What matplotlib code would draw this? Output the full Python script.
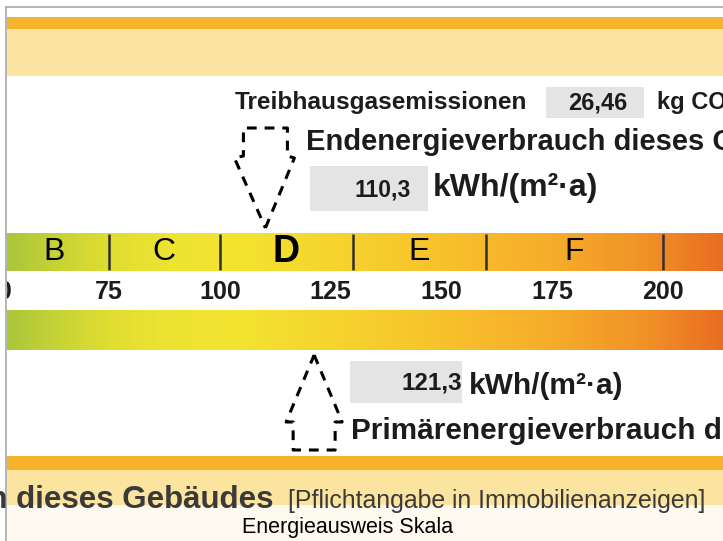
import numpy as np
import matplotlib.pyplot as plt
from matplotlib.colors import LinearSegmentedColormap
from matplotlib.patches import Rectangle

plt.rcParams['font.family'] = ['Liberation Sans', 'DejaVu Sans']

classes = ["B", "C", "D", "E", "F"]
class_edges = [50, 75, 100, 130, 160, 200]
current_class = "D"
tick_values = [50, 75, 100, 125, 150, 175, 200]
endenergie = 110.3
primaerenergie = 121.3
co2 = 26.46

# colour ramp of the scale bar (kWh -> colour)
grad_values = [50, 62, 75, 90, 105, 125, 150, 175, 195, 215]
grad_colors = ["#a7c53b", "#c4d236", "#e0de31", "#efe432", "#f3e331",
               "#f6d42e", "#f8c22c", "#f6ad2a", "#f19427", "#ea6b22"]

W, H = 723, 541
fig = plt.figure(figsize=(W / 100, H / 100), dpi=100)

# background / decoration in pixel coordinates
deco = fig.add_axes([0, 0, 1, 1])
deco.set_xlim(0, W)
deco.set_ylim(H, 0)
deco.axis("off")

# scale: kWh on x (inside the frame, from pixel 7), pixels on y
left = 7
ax = fig.add_axes([left / W, 0, 1 - left / W, 1])
ax.set_xlim(51.97, 213.59)
ax.set_ylim(H, 0)
ax.axis("off")
px = (213.59 - 51.97) / (W - left)  # kWh per pixel

orange = "#f6b42c"
light = "#fbe3a0"
grey_box = "#e4e4e4"
ink = "#1c1c1c"

# top bands
deco.add_patch(Rectangle((7, 17), W, 12, color=orange, lw=0))
deco.add_patch(Rectangle((7, 29), W, 47, color=light, lw=0))
# bottom bands
deco.add_patch(Rectangle((7, 456), W, 14, color=orange, lw=0))
deco.add_patch(Rectangle((7, 470), W, 80, color=light, lw=0))

# CO2 line
deco.text(235, 103, "Treibhausgasemissionen", fontsize=17.6, fontweight="bold",
          color=ink, va="center", ha="left")
deco.add_patch(Rectangle((546, 87), 98, 31, color=grey_box, lw=0))
deco.text(598, 103, f"{co2:.2f}".replace(".", ","), fontsize=17, fontweight="bold",
          color=ink, va="center", ha="center")
deco.text(657, 103, "kg CO₂/(m²·a)", fontsize=17, fontweight="bold",
          color=ink, va="center", ha="left", clip_on=True)

# Endenergie label
deco.text(306, 142, "Endenergieverbrauch dieses Gebäudes", fontsize=21,
          fontweight="bold", color=ink, va="center", ha="left", clip_on=True)
deco.add_patch(Rectangle((310, 166), 118, 45, color=grey_box, lw=0))
deco.text(411, 190, f"{endenergie:.1f}".replace(".", ","), fontsize=16.5,
          fontweight="bold", color=ink, va="center", ha="right")
deco.text(433, 188, "kWh/(m²·a)", fontsize=23, fontweight="bold",
          color=ink, va="center", ha="left")

# Primaerenergie label
deco.add_patch(Rectangle((350, 361), 112, 42, color=grey_box, lw=0))
deco.text(462, 383, f"{primaerenergie:.1f}".replace(".", ","), fontsize=17.5,
          fontweight="bold", color=ink, va="center", ha="right")
deco.text(469, 386, "kWh/(m²·a)", fontsize=21.5, fontweight="bold",
          color=ink, va="center", ha="left")
deco.text(351, 431, "Primärenergieverbrauch dieses Gebäudes", fontsize=21.4,
          fontweight="bold", color=ink, va="center", ha="left", clip_on=True)

# bottom caption line (cut by the overlay)
deco.text(274, 508, "Endenergieverbrauch dieses Gebäudes", fontsize=22.5,
          fontweight="bold", color="#3a3a3a", va="baseline", ha="right", clip_on=True)
deco.text(288, 508, "[Pflichtangabe in Immobilienanzeigen]", fontsize=17.9,
          color="#3a3a3a", va="baseline", ha="left")
deco.add_patch(Rectangle((7, 505), W, 40, color="white", alpha=0.84, lw=0))
deco.text(348, 527, "Energieausweis Skala", fontsize=15.5, color="black",
          va="center", ha="center")

# frame lines of the screenshot
deco.plot([6, W], [7, 7], color="#a8a8a8", lw=1.2)
deco.plot([6, 6], [7, H], color="#a8a8a8", lw=1.2)

# gradient bars
cmap = LinearSegmentedColormap.from_list(
    "scale", list(zip((np.array(grad_values) - grad_values[0]) /
                      (grad_values[-1] - grad_values[0]), grad_colors)))
xs = np.linspace(grad_values[0], grad_values[-1], 400)
for y0, y1 in [(233, 271), (310, 350)]:
    ax.imshow(xs[None, :], cmap=cmap, aspect="auto",
              extent=(grad_values[0], grad_values[-1], y1, y0),
              vmin=grad_values[0], vmax=grad_values[-1], interpolation="bilinear")
ax.set_xlim(51.97, 213.59)
ax.set_ylim(H, 0)

# class boundaries and letters
ax.vlines(class_edges, 234, 270, color="#2e2e2e", lw=1.8)
for c, a, b in zip(classes, class_edges[:-1], class_edges[1:]):
    if c == current_class:
        ax.text((a + b) / 2, 252, c, fontsize=27, fontweight="bold",
                color="black", ha="center", va="center")
    else:
        ax.text((a + b) / 2, 252, c, fontsize=23, color="black",
                ha="center", va="center")

# tick labels between the bars
for v in tick_values:
    ax.text(v, 292, str(v), fontsize=18, fontweight="bold", color=ink,
            ha="center", va="center", clip_on=True)

# dashed arrows (pixel offsets relative to the tip)
dash = dict(color="black", lw=2.2, ls=(0, (3.2, 2.6)))
down = np.array([[0, 0], [29, -70], [22, -72], [22, -100], [-22, -100],
                 [-22, -72], [-31, -70], [0, 0]], dtype=float)
ax.plot(endenergie + down[:, 0] * px, 228 + down[:, 1], **dash)
up = np.array([[0, 0], [28, 67], [21, 67], [21, 95], [-21, 95],
               [-21, 67], [-28, 67], [0, 0]], dtype=float)
ax.plot(primaerenergie + up[:, 0] * px, 355 + up[:, 1], **dash)

fig.savefig("out.png", dpi=100)
